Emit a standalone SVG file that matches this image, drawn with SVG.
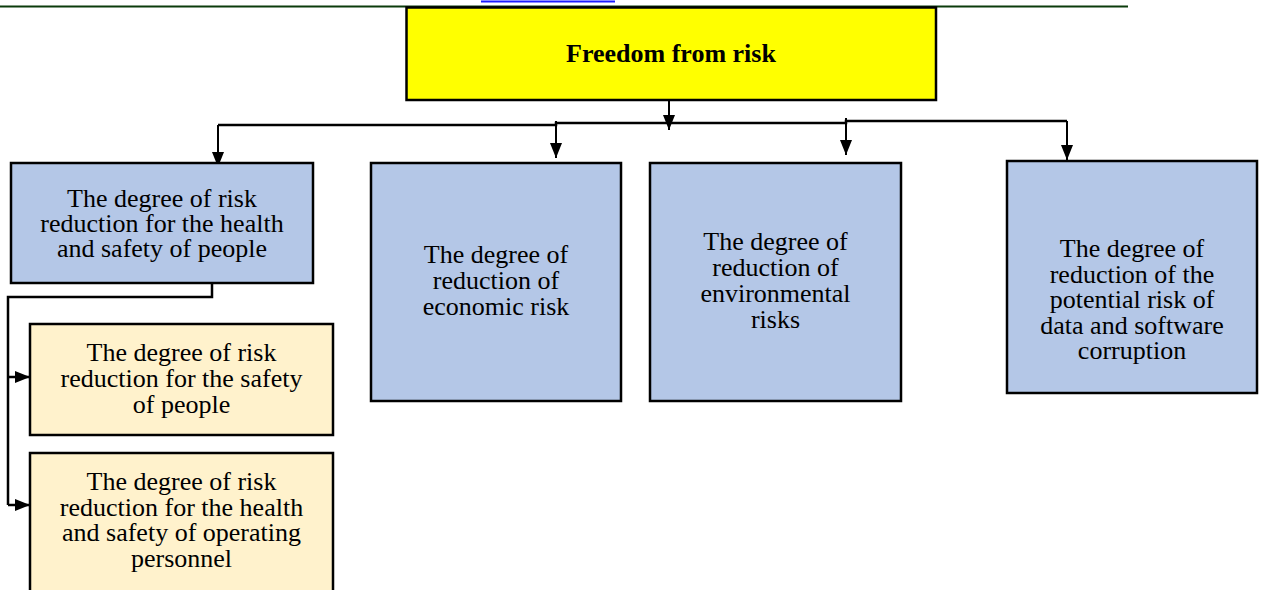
<svg xmlns="http://www.w3.org/2000/svg" width="1261" height="590" viewBox="0 0 1261 590">
  <style>
    .box { stroke: #000; stroke-width: 2.5; }
    .blue { fill: #b4c7e7; }
    .cream { fill: #fff2cc; }
    .yellow { fill: #ffff00; }
    .t { font-family: "Liberation Serif", "Times New Roman", serif; font-size: 26px; fill: #000; text-anchor: middle; }
    .tb { font-weight: bold; }
    .ln { fill: none; stroke: #000; stroke-width: 2.5; }
    .ln2 { fill: none; stroke: #000; stroke-width: 2; }
  </style>
  <defs>
    <marker id="arr" markerUnits="userSpaceOnUse" markerWidth="15" markerHeight="12" viewBox="0 0 15 12" refX="15" refY="6" orient="auto">
      <path d="M0,0 L15,6 L0,12 z" fill="#000"/>
    </marker>
  </defs>

  <rect width="1261" height="590" fill="#fff"/>

  <!-- header rule and link underline -->
  <g id="header">
    <line x1="0" y1="6.5" x2="1128" y2="6.5" stroke="#0b3b0b" stroke-width="2"/>
    <line x1="481" y1="1.5" x2="615" y2="1.5" stroke="#1a1aff" stroke-width="2"/>
  </g>

  <!-- connectors -->
  <g id="connectors">
    <line class="ln2" x1="669" y1="101" x2="669" y2="130" marker-end="url(#arr)"/>
    <polyline class="ln" points="218,125 556,125 556,123 846,123 846,121 1067,121"/>
    <line class="ln2" x1="218" y1="125" x2="218" y2="167" marker-end="url(#arr)"/>
    <line class="ln2" x1="556" y1="121" x2="556" y2="158" marker-end="url(#arr)"/>
    <line class="ln2" x1="846" y1="118" x2="846" y2="155" marker-end="url(#arr)"/>
    <line class="ln2" x1="1067" y1="121" x2="1067" y2="160" marker-end="url(#arr)"/>
    <polyline class="ln" points="212,283 212,297 8,297 8,505"/>
    <line class="ln" x1="8" y1="377" x2="30" y2="377" marker-end="url(#arr)"/>
    <line class="ln" x1="8" y1="505" x2="30" y2="505" marker-end="url(#arr)"/>
  </g>

  <g id="root">
    <rect class="box yellow" x="406.5" y="7.5" width="529.5" height="92.5"/>
    <text class="t tb" x="671" y="62">Freedom from risk</text>
  </g>

  <g id="health-safety-people">
    <rect class="box blue" x="11" y="163" width="302" height="120"/>
    <text class="t" x="162" y="207">The degree of risk</text>
    <text class="t" x="162" y="232">reduction for the health</text>
    <text class="t" x="162" y="257">and safety of people</text>
  </g>

  <g id="economic">
    <rect class="box blue" x="371" y="163" width="250" height="238"/>
    <text class="t" x="496" y="263">The degree of</text>
    <text class="t" x="496" y="289">reduction of</text>
    <text class="t" x="496" y="315">economic risk</text>
  </g>

  <g id="environmental">
    <rect class="box blue" x="650" y="163" width="251" height="238"/>
    <text class="t" x="775.5" y="250">The degree of</text>
    <text class="t" x="775.5" y="276">reduction of</text>
    <text class="t" x="775.5" y="302">environmental</text>
    <text class="t" x="775.5" y="328">risks</text>
  </g>

  <g id="data-software">
    <rect class="box blue" x="1007" y="161" width="250" height="232"/>
    <text class="t" x="1132" y="257">The degree of</text>
    <text class="t" x="1132" y="282.5">reduction of the</text>
    <text class="t" x="1132" y="308">potential risk of</text>
    <text class="t" x="1132" y="333.5">data and software</text>
    <text class="t" x="1132" y="359">corruption</text>
  </g>

  <g id="safety-people">
    <rect class="box cream" x="30" y="324" width="303" height="111"/>
    <text class="t" x="181.5" y="361">The degree of risk</text>
    <text class="t" x="181.5" y="387">reduction for the safety</text>
    <text class="t" x="181.5" y="413">of people</text>
  </g>

  <g id="operating-personnel">
    <rect class="box cream" x="30" y="453" width="303" height="150"/>
    <text class="t" x="181.5" y="490">The degree of risk</text>
    <text class="t" x="181.5" y="516">reduction for the health</text>
    <text class="t" x="181.5" y="541">and safety of operating</text>
    <text class="t" x="181.5" y="567">personnel</text>
  </g>
</svg>
